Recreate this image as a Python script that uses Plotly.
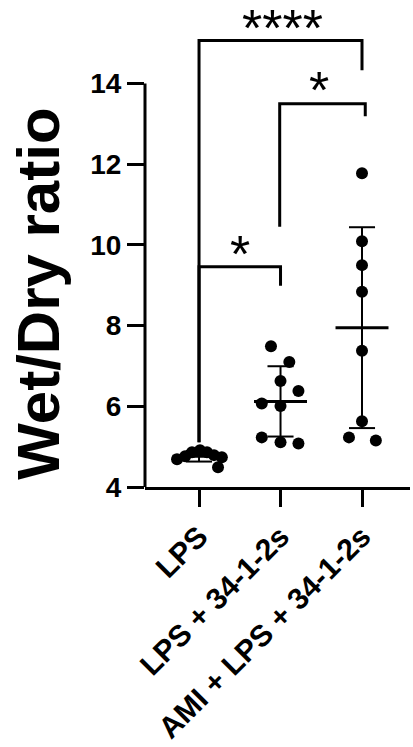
import plotly.graph_objects as go
import numpy as np

# ---------------- data ----------------
groups = ["LPS", "LPS + 34-1-2s", "AMI + LPS + 34-1-2s"]
lps_vals = [4.69, 4.76, 4.86, 4.91, 4.86, 4.79, 4.74, 4.49]
lps34_vals = [7.49, 7.10, 6.63, 6.38, 6.07, 6.01, 5.23, 5.11, 5.08]
ami_vals = [11.78, 10.09, 9.50, 8.84, 7.38, 5.63, 5.23, 5.15]
# horizontal scatter of points (beeswarm spread, in category units)
lps_jitter = [-0.27, -0.17, -0.086, 0.012, 0.098, 0.184, 0.28, 0.233]
lps34_jitter = [-0.117, 0.108, 0.0, 0.22, -0.23, 0.0, -0.23, 0.0, 0.22]
ami_jitter = [0.0, 0.0, 0.0, 0.0, 0.0, 0.0, -0.16, 0.17]
y_ticks = [4, 6, 8, 10, 12, 14]
y_title = "Wet/Dry ratio"
# significance comparisons: (group a, group b, label)
comparisons = [(0, 1, "*"), (1, 2, "*"), (0, 2, "****")]

values = [lps_vals, lps34_vals, ami_vals]
jitters = [lps_jitter, lps34_jitter, ami_jitter]

FONT = "Liberation Sans, Arial, sans-serif"
BLACK = "#000000"

fig = go.Figure()

# points
for i, (v, j) in enumerate(zip(values, jitters)):
    fig.add_trace(go.Scatter(
        x=[i + d for d in j], y=v, mode="markers",
        marker=dict(size=12, color=BLACK),
        showlegend=False, hoverinfo="skip"))

# mean +- SD
for i, v in enumerate(values):
    m = float(np.mean(v))
    s = float(np.std(v, ddof=1))
    fig.add_trace(go.Scatter(
        x=[i, i, None, i - 0.16, i + 0.16, None, i - 0.16, i + 0.16],
        y=[m - s, m + s, None, m + s, m + s, None, m - s, m - s],
        mode="lines", line=dict(color=BLACK, width=2),
        showlegend=False, hoverinfo="skip"))
    fig.add_trace(go.Scatter(
        x=[i - 0.325, i + 0.325], y=[m, m], mode="lines",
        line=dict(color=BLACK, width=3),
        showlegend=False, hoverinfo="skip"))

# significance brackets (layout positions)
bracket_geo = {
    (0, 1): dict(xa=0.0, xb=1.0, top=9.46, la=5.11, lb=8.99, sx=0.503, sy=9.77),
    (1, 2): dict(xa=0.99, xb=2.04, top=13.50, la=10.45, lb=13.19, sx=1.47, sy=13.85),
    (0, 2): dict(xa=0.0, xb=2.0, top=15.07, la=5.11, lb=14.33, sx=1.03, sy=15.39),
}
for a, b, lab in comparisons:
    g = bracket_geo[(a, b)]
    fig.add_trace(go.Scatter(
        x=[g["xa"], g["xa"], g["xb"], g["xb"]],
        y=[g["la"], g["top"], g["top"], g["lb"]],
        mode="lines", line=dict(color=BLACK, width=3),
        showlegend=False, hoverinfo="skip"))
    fig.add_annotation(x=g["sx"], y=g["sy"], xref="x", yref="y", text=lab,
                       showarrow=False, xanchor="center", yanchor="middle",
                       borderpad=0,
                       font=dict(family=FONT, size=52, color=BLACK))

# y-axis line only from 4 to 14
fig.add_shape(type="line", xref="paper", yref="y", x0=0, x1=0,
              y0=y_ticks[0], y1=y_ticks[-1], line=dict(color=BLACK, width=3))

# y title
fig.add_annotation(x=0, xref="paper", xanchor="center", xshift=-106,
                   y=8.79, yref="y", yanchor="middle", text="<b>" + y_title + "</b>",
                   textangle=-90, showarrow=False,
                   font=dict(family=FONT, size=60, color=BLACK))

fig.update_layout(
    width=413, height=747,
    margin=dict(l=145, r=3, t=21, b=257),
    paper_bgcolor="white", plot_bgcolor="white",
    showlegend=False,
    hovermode=False,
    xaxis=dict(range=[-0.663, 2.589], tickvals=[0, 1, 2], ticktext=groups,
               tickangle=-45, showgrid=False, zeroline=False,
               showline=True, linecolor=BLACK, linewidth=3,
               ticks="outside", ticklen=17, tickwidth=3, tickcolor=BLACK,
               tickfont=dict(family=FONT, size=30, color=BLACK, weight="bold")),
    yaxis=dict(range=[4, 15.552], tickvals=y_ticks, showgrid=False,
               zeroline=False, showline=False,
               ticks="outside", ticklen=17, tickwidth=3, tickcolor=BLACK,
               tickfont=dict(family=FONT, size=28, color=BLACK, weight="bold")),
)

fig.write_html("out.html",
               config={"displayModeBar": False, "staticPlot": True},
               post_script="document.body.style.margin='0px';"
                           "document.body.style.overflow='hidden';")
